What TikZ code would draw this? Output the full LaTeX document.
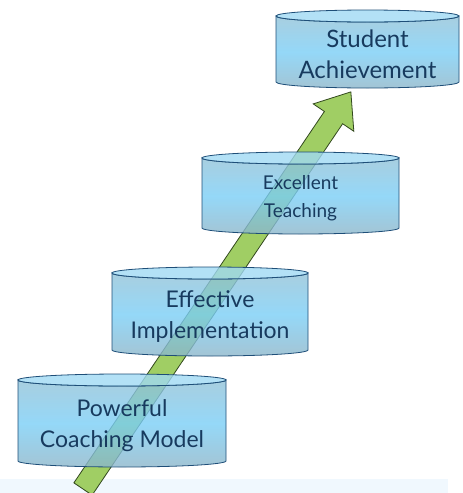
\documentclass[tikz,border=0pt]{standalone}
\usepackage{fontspec}
\setmainfont{Lato}
\usepackage{tikz}
\usepackage{xcolor}
\definecolor{stageline}{RGB}{30,78,120}
\definecolor{stagetopfill}{RGB}{160,218,244}
\definecolor{bodyupper}{RGB}{146,194,216}
\definecolor{bodymid}{RGB}{122,206,246}
\definecolor{bodylower}{RGB}{140,182,202}
\definecolor{stageink}{RGB}{23,58,94}
\definecolor{arrowgreen}{RGB}{160,206,100}
\definecolor{arrowedge}{RGB}{50,72,30}
\definecolor{floorblue}{RGB}{240,248,254}
\tikzset{
    stage-body/.style = {draw=stageline, thin, fill opacity=0.8, top color=bodyupper, bottom color=bodylower, middle color=bodymid},
    stage-top/.style = {draw=stageline, thin, fill=stagetopfill, fill opacity=0.8},
    stage-text/.style = {text=stageink, align=center, font=\fontsize{11.5}{15.5}\selectfont},
    growth-arrow/.style = {draw=arrowedge, thin, fill=arrowgreen, line join=miter},
    floor-strip/.style = {fill=floorblue},
}
% #2 name, #3 centre x, #4 top y, #5 bottom y, #6 half width, #7 text
\newcommand{\stage}[7][]{
    \path[stage-body] (#3-#6,#4) -- (#3-#6,#5) arc[start angle=180, end angle=0, x radius=#6, y radius=6]
        -- (#3+#6,#4) arc[start angle=0, end angle=180, x radius=#6, y radius=6] -- cycle;
    \path[stage-top] (#3,#4) ellipse[x radius=#6, y radius=6];
    \node[stage-text, #1] (#2) at (#3,{(#4+#5)/2+5}) {#7};
}

\begin{document}
\begin{tikzpicture}[x=0.5pt, y=-0.5pt]
\useasboundingbox (0,0) rectangle (462,493);
\path[floor-strip] (0,479) rectangle (448,493);
\begin{scope}[shift={(83,489)}, rotate=56, y=0.5pt]
    \path[growth-arrow] (0,-11) -- (448,-11) -- (448,-24.5) -- (479,0) -- (448,24.5) -- (448,11) -- (0,11) -- cycle;
\end{scope}
\stage{coaching}{122}{380}{461}{104}{Powerful\\Coaching Model}
\stage{implementation}{210}{273}{350}{98}{Effective\\Implementation}
\stage[font=\fontsize{9.5}{14}\selectfont]{teaching}{300.5}{158}{228}{98.5}{Excellent\\Teaching}
\stage[font=\fontsize{12}{15.5}\selectfont]{achievement}{367.5}{16}{82}{91.5}{Student\\Achievement}
\end{tikzpicture}
\end{document}
